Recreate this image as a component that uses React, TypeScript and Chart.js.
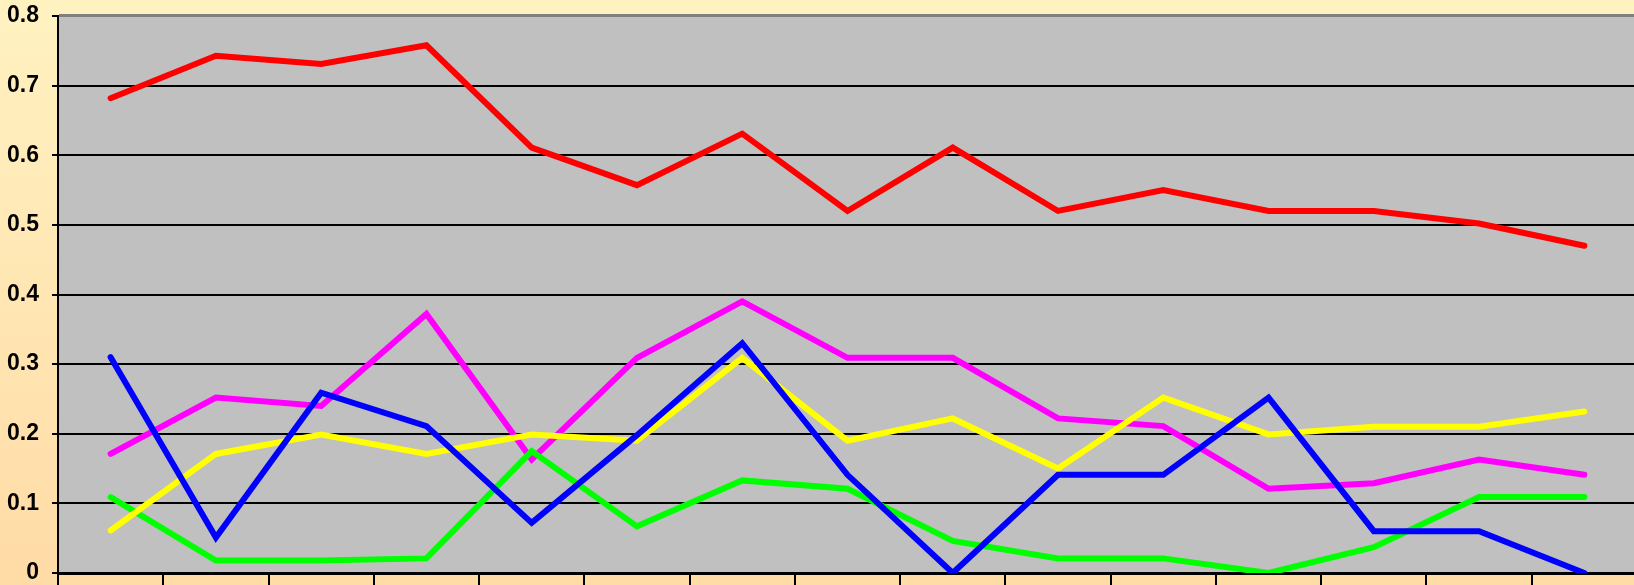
import React, { useEffect, useRef } from "react";
import { Chart, registerables } from "chart.js";

Chart.register(...registerables);

const categories = ["1", "2", "3", "4", "5", "6", "7", "8", "9", "10", "11", "12", "13", "14", "15"];
const redSeries = [0.682, 0.743, 0.731, 0.758, 0.611, 0.557, 0.631, 0.52, 0.611, 0.52, 0.55, 0.52, 0.52, 0.502, 0.47];
const magentaSeries = [0.171, 0.252, 0.24, 0.372, 0.163, 0.309, 0.39, 0.309, 0.309, 0.222, 0.211, 0.121, 0.129, 0.163, 0.141];
const blueSeries = [0.31, 0.051, 0.259, 0.211, 0.072, 0.198, 0.33, 0.141, 0.0, 0.141, 0.141, 0.252, 0.06, 0.06, 0.0];
const yellowSeries = [0.061, 0.171, 0.199, 0.171, 0.199, 0.19, 0.309, 0.19, 0.222, 0.15, 0.252, 0.199, 0.21, 0.21, 0.232];
const greenSeries = [0.109, 0.018, 0.018, 0.021, 0.175, 0.067, 0.133, 0.121, 0.046, 0.021, 0.021, 0.0, 0.037, 0.109, 0.109];
const yTickLabels = ["0", "0.1", "0.2", "0.3", "0.4", "0.5", "0.6", "0.7", "0.8"];

const plotBg = {
  id: "plotBg",
  beforeDraw(chart: any) {
    const { ctx, chartArea } = chart;
    if (!chartArea) return;
    ctx.save();
    ctx.fillStyle = "#C0C0C0";
    ctx.fillRect(chartArea.left, chartArea.top, chartArea.right - chartArea.left, chartArea.bottom - chartArea.top);
    ctx.restore();
  },
  beforeDatasetsDraw(chart: any) {
    const { ctx, chartArea } = chart;
    ctx.save();
    ctx.strokeStyle = "#808080";
    ctx.lineWidth = 3;
    ctx.beginPath();
    ctx.moveTo(chartArea.left + 1, chartArea.top - 0.5);
    ctx.lineTo(chartArea.right, chartArea.top - 0.5);
    ctx.stroke();
    ctx.restore();
  },
};

export default function App() {
  const ref = useRef<HTMLCanvasElement | null>(null);
  useEffect(() => {
    if (!ref.current) return;
    const mk = (label: string, data: number[], color: string) => ({
      label,
      data,
      borderColor: color,
      backgroundColor: color,
      borderWidth: 6,
      pointRadius: 0,
      tension: 0,
      fill: false,
      borderCapStyle: "round" as const,
      borderJoinStyle: "miter" as const,
    });
    const chart = new Chart(ref.current, {
      type: "line",
      data: {
        labels: categories,
        datasets: [
          mk("Series 1", redSeries, "#FF0000"),
          mk("Series 4", blueSeries, "#0000FF"),
          mk("Series 3", yellowSeries, "#FFFF00"),
          mk("Series 5", greenSeries, "#00FF00"),
          mk("Series 2", magentaSeries, "#FF00FF"),
        ],
      },
      options: {
        animation: false,
        responsive: true,
        maintainAspectRatio: false,
        layout: { padding: { top: 16, right: 3, left: 0, bottom: 0 } },
        plugins: { legend: { display: false }, tooltip: { enabled: false } },
        scales: {
          x: {
            offset: true,
            grid: {
              offset: true,
              drawOnChartArea: false,
              drawTicks: true,
              tickLength: 12,
              color: "#000000",
              lineWidth: 2,
            },
            border: { display: true, color: "#000000", width: 3 },
            ticks: { display: false },
            afterFit(scale: any) {
              scale.height = 12;
              scale.paddingLeft = 0;
              scale.paddingRight = 0;
            },
          },
          y: {
            min: 0,
            max: 0.8,
            grid: {
              color: "#000000",
              lineWidth: 2,
              tickLength: 6,
              drawTicks: true,
            },
            border: { display: true, color: "#000000", width: 2 },
            ticks: {
              stepSize: 0.1,
              padding: 13,
              color: "#000000",
              font: { family: "'Liberation Sans Narrow', 'Liberation Sans', Arial, sans-serif", size: 23, weight: "bold" },
              callback: (_v: any, i: number) => yTickLabels[i],
            },
            afterFit(scale: any) {
              scale.width = 58;
              scale.paddingTop = 0;
              scale.paddingBottom = 0;
            },
          },
        },
      },
      plugins: [plotBg],
    });
    return () => chart.destroy();
  }, []);

  return (
    <div
      style={{
        position: "fixed",
        left: 0,
        top: 0,
        width: 1634,
        height: 585,
        overflow: "hidden",
        background: "linear-gradient(to bottom, #FFF2C1 0%, #FFDBA6 100%)",
      }}
    >
      <div style={{ position: "absolute", left: 0, top: 0, width: 1640, height: 585 }}>
        <canvas ref={ref} />
      </div>
    </div>
  );
}
